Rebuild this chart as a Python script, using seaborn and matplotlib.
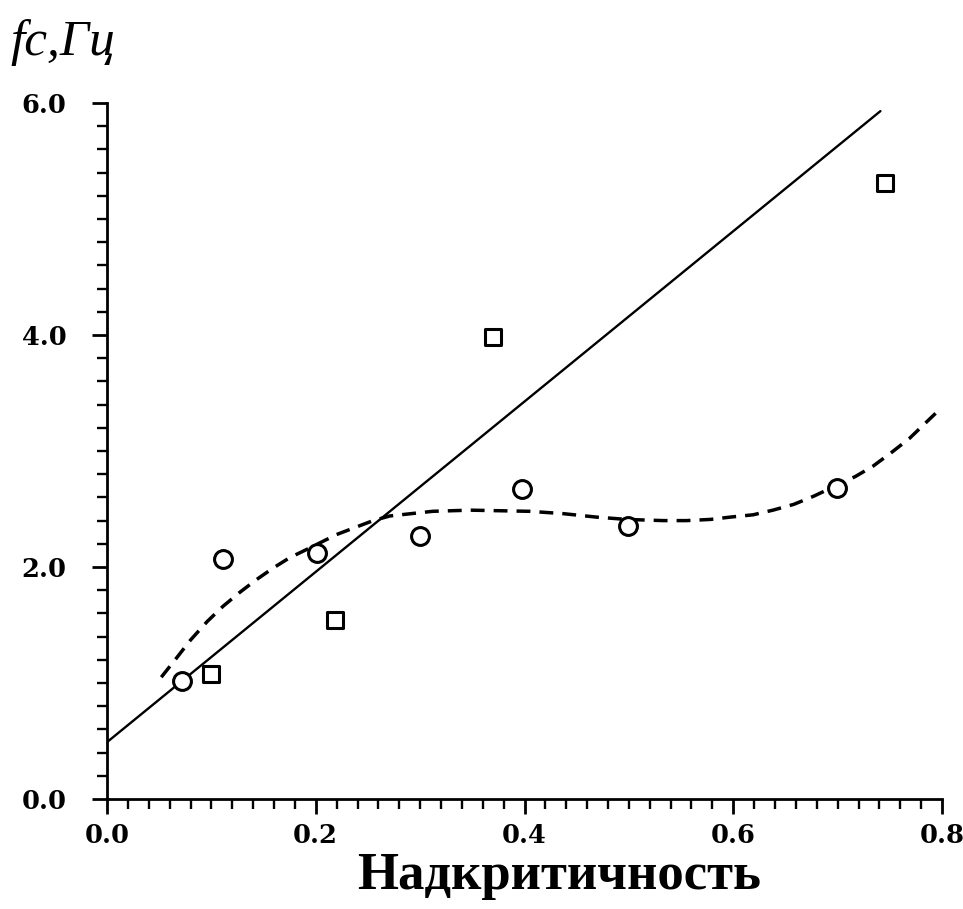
import numpy as np
import pandas as pd
import matplotlib
matplotlib.use("Agg")
import matplotlib.pyplot as plt
from matplotlib.ticker import MultipleLocator, FormatStrFormatter
import seaborn as sns

# ---- data ----
circle_x = [0.072, 0.111, 0.201, 0.300, 0.398, 0.499, 0.699]
circle_y = [1.02, 2.07, 2.12, 2.27, 2.67, 2.35, 2.68]

square_x = [0.100, 0.218, 0.370, 0.745]
square_y = [1.08, 1.54, 3.98, 5.31]

fit_line_x = [0.0, 0.741]
fit_line_y = [0.49, 5.93]

curve_x = [0.052, 0.067, 0.080, 0.096, 0.111, 0.127, 0.143, 0.159, 0.175, 0.191,
           0.220, 0.255, 0.271, 0.312, 0.348, 0.405, 0.437, 0.469, 0.498, 0.533,
           0.555, 0.578, 0.597, 0.619, 0.638, 0.658, 0.677, 0.717, 0.734, 0.752,
           0.769, 0.784, 0.798]
curve_y = [1.05, 1.22, 1.37, 1.53, 1.66, 1.78, 1.89, 1.99, 2.08, 2.15,
           2.28, 2.40, 2.44, 2.48, 2.49, 2.48, 2.46, 2.43, 2.41, 2.40,
           2.40, 2.41, 2.43, 2.45, 2.49, 2.54, 2.61, 2.78, 2.87, 2.99,
           3.11, 3.24, 3.36]

x_ticks = [0.0, 0.2, 0.4, 0.6, 0.8]
y_ticks = [0.0, 2.0, 4.0, 6.0]
x_label = "Надкритичность"
y_label = "fc,Гц"

sns.set_theme(style="ticks")
plt.rcParams["font.family"] = ["DejaVu Serif", "DejaVu Sans"]
plt.rcParams["text.color"] = "black"
plt.rcParams["xtick.color"] = "black"
plt.rcParams["ytick.color"] = "black"
plt.rcParams["axes.labelcolor"] = "black"

fig = plt.figure(figsize=(9.63, 9.09), dpi=100)
ax = fig.add_axes([107/963, 1-799/909, (942-107)/963, (799-103)/909])

df_c = pd.DataFrame({"x": circle_x, "y": circle_y})
df_s = pd.DataFrame({"x": square_x, "y": square_y})
df_l = pd.DataFrame({"x": fit_line_x, "y": fit_line_y})
df_k = pd.DataFrame({"x": curve_x, "y": curve_y})

sns.lineplot(data=df_l, x="x", y="y", ax=ax, color="black", lw=1.7, sort=False)
sns.lineplot(data=df_k, x="x", y="y", ax=ax, color="black", lw=2.5, sort=False,
             linestyle=(0, (4.0, 2.6)))
sns.scatterplot(data=df_c, x="x", y="y", ax=ax, marker="o", s=165,
                facecolor="white", edgecolor="black", linewidth=2.2, zorder=5)
sns.scatterplot(data=df_s, x="x", y="y", ax=ax, marker="s", s=140,
                facecolor="white", edgecolor="black", linewidth=2.2, zorder=5)

ax.set_xlim(0.0, 0.8)
ax.set_ylim(0.0, 6.0)
ax.set_xticks(x_ticks)
ax.set_yticks(y_ticks)
ax.xaxis.set_major_formatter(FormatStrFormatter("%.1f"))
ax.yaxis.set_major_formatter(FormatStrFormatter("%.1f"))
ax.xaxis.set_minor_locator(MultipleLocator(0.02))
ax.yaxis.set_minor_locator(MultipleLocator(0.2))

for s in ["top", "right"]:
    ax.spines[s].set_visible(False)
for s in ["left", "bottom"]:
    ax.spines[s].set_linewidth(2.0)
    ax.spines[s].set_color("black")

ax.tick_params(axis="both", which="major", direction="out", length=11, width=2.0,
               color="black", labelcolor="black", labelsize=18.5, pad=6)
ax.tick_params(axis="both", which="minor", direction="out", length=7, width=1.7,
               color="black")
ax.tick_params(axis="y", which="major", pad=18)
for lab in ax.get_xticklabels() + ax.get_yticklabels():
    lab.set_fontweight("heavy")
    lab.set_fontfamily(["DejaVu Serif"])

ax.set_xlabel("")
ax.set_ylabel("")
fig.text(559/963, 1-889/909, x_label, fontsize=38, fontweight="bold",
         family=["Liberation Serif", "DejaVu Serif"], ha="center", va="baseline",
         color="black")
fig.text(10/963, 1-55/909, y_label, fontsize=37, style="italic",
         family=["Liberation Serif", "DejaVu Serif"], ha="left", va="baseline",
         color="black")

fig.savefig("out.png", dpi=100, facecolor="white")
